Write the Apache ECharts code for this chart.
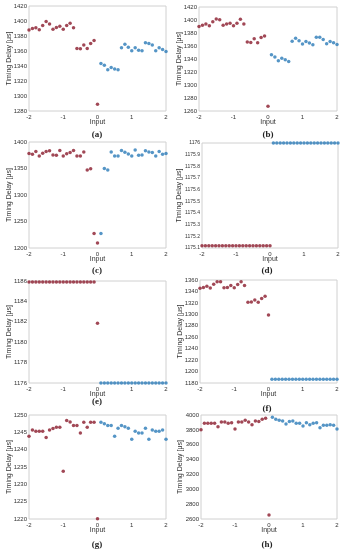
<!DOCTYPE html>
<html><head><meta charset="utf-8">
<script src="https://cdn.jsdelivr.net/npm/echarts@6/dist/echarts.min.js"></script>
<style>html,body{margin:0;padding:0;background:#fff}#c{width:345px;height:550px}</style>
</head><body><div id="c"></div>
<script>
// Input values (x)
const inputs = [-2,-1.9,-1.8,-1.7,-1.6,-1.5,-1.4,-1.3,-1.2,-1.1,-1,-0.9,-0.8,-0.7,-0.6,-0.5,-0.4,-0.3,-0.2,-0.1,0,
                0.1,0.2,0.3,0.4,0.5,0.6,0.7,0.8,0.9,1,1.1,1.2,1.3,1.4,1.5,1.6,1.7,1.8,1.9,2];
const xTicks = [-2,-1,0,1,2];

// (a)
const redA  = [1388,1390,1391,1388.5,1394,1399.5,1396,1389,1391.5,1393,1389,1394,1397,1391,1363.5,1363,1368,1363.5,1370,1374,1289];
const blueA = [1343.5,1341,1335,1338,1336,1335,1364.5,1369,1365,1360.5,1364.5,1361,1360.5,1371,1370,1368,1360.5,1364.5,1362,1359.5];
// (b)
const redB  = [1390,1392,1394,1391,1397.5,1401.5,1400.5,1392,1394,1395,1391,1395,1401,1394,1366,1365.5,1371,1365,1373,1375.5,1267.5];
const blueB = [1346.5,1343,1337.5,1341,1339,1336,1367.5,1372,1368,1363,1367,1364.5,1362,1373.5,1373.5,1370,1363.5,1367,1365,1362.5];
// (c)
const redC  = [1378.5,1377,1382,1373.5,1379,1382,1383.5,1375.5,1375,1384,1373.5,1378,1380,1384,1373.5,1373.5,1381,1347,1349.5,1227.5,1209.5];
const blueC = [1227.5,1350,1347,1381,1373.5,1373.5,1384,1380.5,1377.5,1373.5,1385,1375,1375.5,1383.5,1381,1380,1373.5,1382,1377,1378.5];
// (d)
const redD  = [1175.12,1175.12,1175.12,1175.12,1175.12,1175.12,1175.12,1175.12,1175.12,1175.12,1175.12,1175.12,1175.12,1175.12,1175.12,1175.12,1175.12,1175.12,1175.12,1175.12,1175.12];
const blueD = [1176,1176,1176,1176,1176,1176,1176,1176,1176,1176,1176,1176,1176,1176,1176,1176,1176,1176,1176,1176];
// (e)
const redE  = [1185.9,1185.9,1185.9,1185.9,1185.9,1185.9,1185.9,1185.9,1185.9,1185.9,1185.9,1185.9,1185.9,1185.9,1185.9,1185.9,1185.9,1185.9,1185.9,1185.9,1181.85];
const blueE = [1176,1176,1176,1176,1176,1176,1176,1176,1176,1176,1176,1176,1176,1176,1176,1176,1176,1176,1176,1176];
// (f)
const redF  = [1345.5,1347,1349,1346,1352.5,1357,1357,1346.5,1347,1350.5,1346.5,1352,1357,1350.5,1321,1321.5,1325,1321,1327.5,1331.5,1299];
const blueF = [1186.5,1186.5,1186.5,1186.5,1186.5,1186.5,1186.5,1186.5,1186.5,1186.5,1186.5,1186.5,1186.5,1186.5,1186.5,1186.5,1186.5,1186.5,1186.5,1186.5];
// (g)
const redG  = [1243.9,1245.7,1245.3,1245.3,1245.3,1243.5,1245.7,1246.1,1246.5,1246.5,1233.75,1248.4,1248,1247,1247,1244.8,1247.9,1246.5,1247.9,1247.9,1220.1];
const blueG = [1247.9,1247.5,1247,1247,1243.9,1246.2,1247,1246.6,1246.2,1243,1245.3,1244.8,1244.8,1246.2,1243,1245.7,1245.3,1245.3,1245.7,1243];
// (h)
const redH  = [3803,3888,3888,3888,3888,3843,3906,3906,3888,3897,3812,3906,3906,3928,3906,3870,3920,3911,3942,3955,2654];
const blueH = [3969,3942,3928,3920,3879,3911,3920,3888,3888,3852,3897,3870,3888,3897,3830,3861,3861,3870,3861,3812];

// y-axis ranges [min, max, interval]
const yRanges = {
  a:[1280,1420,20], b:[1260,1420,20], c:[1200,1400,50], d:[1175.1,1176,0.1],
  e:[1176,1186,2], f:[1180,1360,20], g:[1220,1250,5], h:[2600,4000,200]
};
const panelLabels = ['(a)','(b)','(c)','(d)','(e)','(f)','(g)','(h)'];
const panelData = [[redA,blueA],[redB,blueB],[redC,blueC],[redD,blueD],[redE,blueE],[redF,blueF],[redG,blueG],[redH,blueH]];
const yKeys = ['a','b','c','d','e','f','g','h'];

// layout
const grids = [
  {left:29, top:6,   width:137, height:105},
  {left:199,top:7,   width:138, height:104},
  {left:29, top:142, width:137, height:106},
  {left:202,top:143, width:136, height:105},
  {left:29, top:281, width:137, height:102},
  {left:200,top:280, width:137, height:103},
  {left:29, top:415, width:137, height:104},
  {left:201,top:415, width:136, height:104}
];
const labelPos = [[97,135],[268,135],[97,271],[267,271],[97,402],[267,409],[97,545],[267,545]];
const yNameGap = [16,16,16,19,16,16,16,17];
const yLabelSize = [6,6,6,5,6,6,6,6];

const RED = '#8a1a2c', BLUE = '#2a7ab8';
const FONT = 'Liberation Sans';

const option = {
  animation:false,
  backgroundColor:'#fff',
  grid: grids.map(g => Object.assign({show:true, borderColor:'#d0d0d0', borderWidth:1, containLabel:false}, g)),
  xAxis: grids.map((g,i)=>({
    type:'value', gridIndex:i, min:-2, max:2, interval:1,
    name:'Input', nameLocation:'middle', nameGap:8, nameMoveOverlap:false,
    nameTextStyle:{fontFamily:FONT, fontSize:7, color:'#333'},
    axisLine:{show:false}, axisTick:{show:false}, splitLine:{show:false},
    axisLabel:{fontFamily:FONT, fontSize:6, color:'#333', margin:3}
  })),
  yAxis: yKeys.map((k,i)=>({
    type:'value', gridIndex:i, min:yRanges[k][0], max:yRanges[k][1], interval:yRanges[k][2],
    name:'Timing Delay [μs]', nameLocation:'middle', nameGap: yNameGap[i], nameMoveOverlap:false,
    nameTextStyle:{fontFamily:FONT, fontSize:7, color:'#333'},
    axisLine:{show:false}, axisTick:{show:false}, splitLine:{show:false},
    axisLabel:{fontFamily:FONT, fontSize:yLabelSize[i], color:'#333', margin:2,
      formatter: v => String(+(+v).toFixed(2))}
  })),
  series: [],
  graphic: panelLabels.map((t,i)=>({
    type:'text', x:labelPos[i][0], y:labelPos[i][1],
    style:{text:t, font:'bold 9px "Liberation Serif"', fill:'#222', textAlign:'center', textVerticalAlign:'middle'}
  }))
};

panelData.forEach((pd,i)=>{
  const redPts = pd[0].map((v,j)=>[inputs[j], v]);
  const bluePts = pd[1].map((v,j)=>[inputs[21+j], v]);
  option.series.push({type:'scatter', xAxisIndex:i, yAxisIndex:i, data:redPts, symbol:'circle', symbolSize:3.5, itemStyle:{color:RED}, clip:false});
  option.series.push({type:'scatter', xAxisIndex:i, yAxisIndex:i, data:bluePts, symbol:'circle', symbolSize:3.5, itemStyle:{color:BLUE}, clip:false});
});

const chart = echarts.init(document.getElementById('c'), null, {renderer:'canvas'});
chart.setOption(option);
</script>
</body></html>
